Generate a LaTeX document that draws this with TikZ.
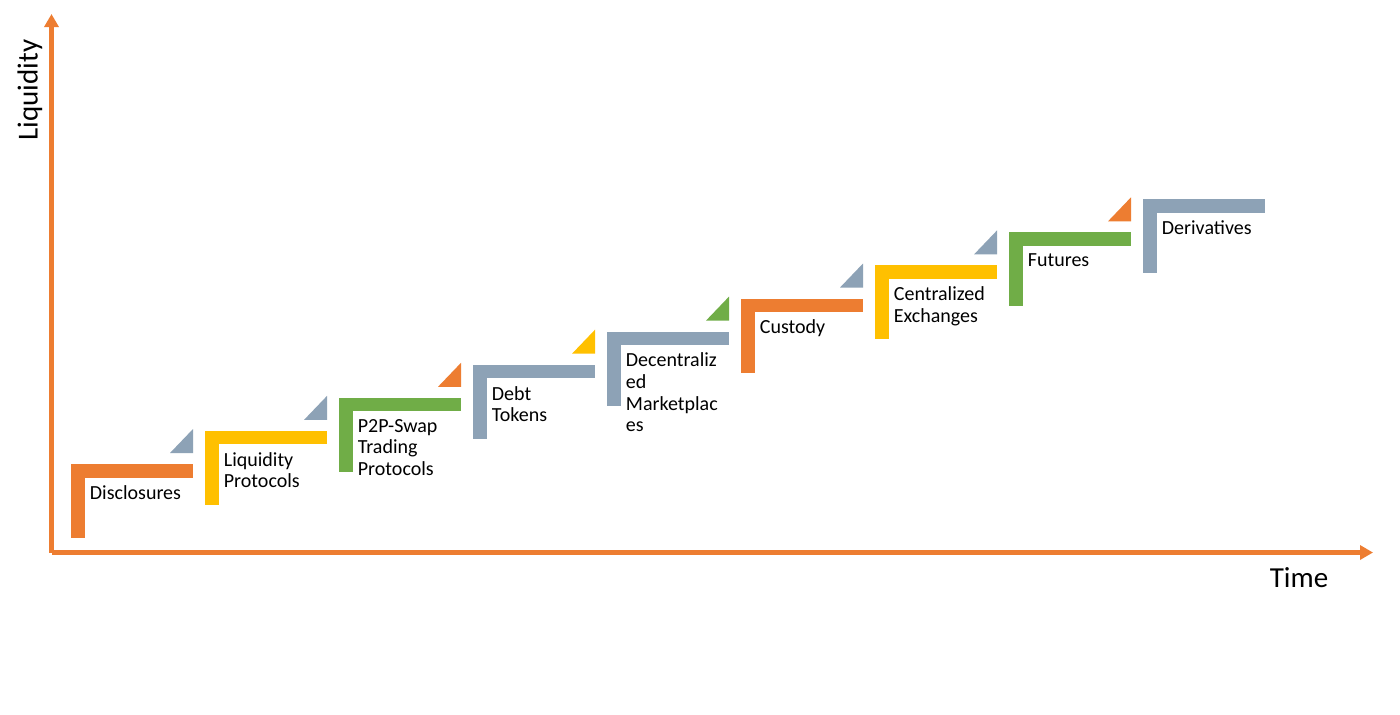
\documentclass[tikz,border=0pt]{standalone}
\usepackage{fontspec}
\setmainfont{Carlito}
\usetikzlibrary{arrows.meta}
\begin{document}
\begin{tikzpicture}[x=0.5pt,y=-0.5pt,
  axe/.style={line width=2.5pt,color=orangef,-{Triangle[width=7pt,length=6.5pt]}},
  etiquette/.style={anchor=north west,align=left,inner sep=0pt,font=\fontsize{10}{10.8}\selectfont},
  titre/.style={inner sep=0pt,font=\fontsize{14.5}{16}\selectfont}]
\definecolor{orangef}{HTML}{ED7D31}
\definecolor{jaune}{HTML}{FFC000}
\definecolor{vert}{HTML}{70AD47}
\definecolor{gris}{HTML}{8DA2B6}

\fill[white] (0,0) rectangle (1400,714);%le fond
\useasboundingbox (0,0) rectangle (1400,714);

\coordinate (O) at (51.5,552.5);
\coordinate (Y) at (51.5,14);
\coordinate (X) at (1373,552.5);
\draw[axe] (O) -- (Y);%l'axe liquidite
\draw[axe] (O) -- (X);%l'axe temps
\node[titre,rotate=90] (liq) at (30,90) {Liquidity};
\node[titre] (temps) at (1299,578) {Time};

%les marches
\foreach \i/\c/\t/\txt in {0/orangef/gris/Disclosures,
    1/jaune/gris/{Liquidity\\Protocols},
    2/vert/orangef/{P2P-Swap\\Trading\\Protocols},
    3/gris/jaune/{Debt\\Tokens},
    4/gris/vert/{Decentraliz\\ed\\Marketplac\\es},
    5/orangef/gris/Custody,
    6/jaune/gris/{Centralized\\Exchanges},
    7/vert/orangef/Futures,
    8/gris/none/Derivatives}
  {
  \pgfmathsetmacro{\x}{71+134*\i}
  \pgfmathsetmacro{\y}{464-33.1*\i}
  \fill[\c] (\x,\y) rectangle (\x+122,\y+13.5);%la barre du haut
  \fill[\c] (\x,\y) rectangle (\x+13.5,\y+74);%la barre de gauche
  \fill[fill=\t] (\x+99,\y-11) -- (\x+122,\y-11) -- (\x+122,\y-35) -- cycle;%le coin
  \node[etiquette] (lbl\i) at (\x+18.5,\y+21) {\txt};
  }
\end{tikzpicture}
\end{document}
